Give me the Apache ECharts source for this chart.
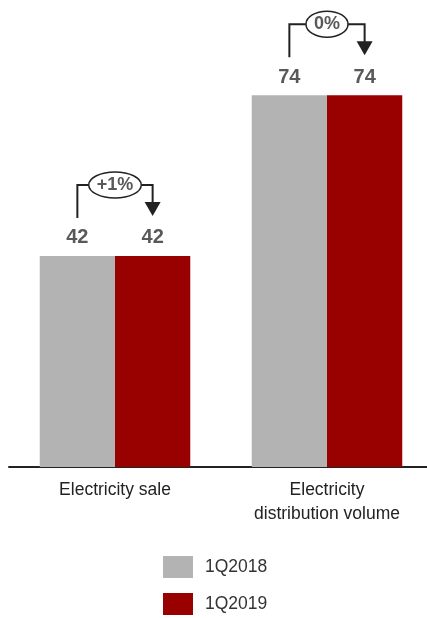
<!DOCTYPE html>
<html>
<head>
<meta charset="utf-8">
<script src="https://cdn.jsdelivr.net/npm/echarts@6/dist/echarts.min.js"></script>
<style>
  html, body { margin: 0; padding: 0; background: #fff; overflow: hidden; }
  #chart { width: 433px; height: 618px; }
</style>
</head>
<body>
<div id="chart"></div>
<script>
// Quarterly volumes per segment
const categories = ['Electricity sale', 'Electricity\ndistribution volume'];
const seriesNames = ['1Q2018', '1Q2019'];
const values2018 = [42, 74];
const values2019 = [42, 74];
const changeLabels = ['+1%', '0%'];

const GRAY = '#b3b3b3';
const RED = '#990000';
const INK = '#222222';
const LABEL_GRAY = '#595959';
const NARROW = "'Liberation Sans Narrow', 'Arial Narrow', 'Liberation Sans', Arial, sans-serif";
const SANS = "'Liberation Sans', Arial, sans-serif";
const GAP = 0.29;

const chart = echarts.init(document.getElementById('chart'), null, { renderer: 'canvas' });

const valueLabel = {
  show: true,
  position: 'top',
  distance: 8,
  color: LABEL_GRAY,
  fontFamily: NARROW,
  fontWeight: 'bold',
  fontSize: 20
};

chart.setOption({
  animation: false,
  backgroundColor: '#ffffff',
  grid: { left: 9, right: 0, top: 65, bottom: 151, containLabel: false },
  legend: {
    orient: 'vertical',
    left: 163,
    top: 556,
    padding: 0,
    itemWidth: 30,
    itemHeight: 22,
    itemGap: 15,
    icon: 'rect',
    textStyle: { color: '#333', fontFamily: SANS, fontSize: 17.5, padding: [0, 0, 0, 7] },
    data: seriesNames
  },
  xAxis: {
    type: 'category',
    data: categories,
    axisLine: { show: true, lineStyle: { color: INK, width: 2 } },
    axisTick: { show: false },
    axisLabel: {
      color: '#222',
      fontFamily: SANS,
      fontSize: 17.5,
      lineHeight: 24,
      margin: 11,
      interval: 0
    }
  },
  yAxis: {
    type: 'value',
    min: 0,
    max: 80,
    show: false,
    splitLine: { show: false }
  },
  series: [
    {
      name: seriesNames[0],
      type: 'bar',
      data: values2018,
      barGap: '0%',
      barCategoryGap: (GAP * 100) + '%',
      itemStyle: { color: GRAY },
      label: valueLabel
    },
    {
      name: seriesNames[1],
      type: 'bar',
      data: values2019,
      itemStyle: { color: RED },
      label: valueLabel
    }
  ]
});

// Change brackets above each pair of bars
const measureCtx = document.createElement('canvas').getContext('2d');
const bubbleFont = 'bold 18px ' + NARROW;
measureCtx.font = bubbleFont;

const xc = categories.map((_, i) => chart.convertToPixel({ xAxisIndex: 0 }, i));
const band = xc.length > 1 ? xc[1] - xc[0] : 212;
const barW = band * (1 - GAP) / 2;
const graphics = [];

categories.forEach((_, i) => {
  const xLeft = xc[i] - barW / 2;
  const xRight = xc[i] + barW / 2;
  const yGray = chart.convertToPixel({ yAxisIndex: 0 }, values2018[i]);
  const yRed = chart.convertToPixel({ yAxisIndex: 0 }, values2019[i]);
  const yTop = Math.min(yGray, yRed);
  const yBracket = yTop - 71;
  const yLeftEnd = yGray - 38;
  const yTip = yRed - 40;
  const yHeadBase = yTip - 14;

  const tw = measureCtx.measureText(changeLabels[i]).width;
  const rx = tw / 2 + 8;
  const ry = 13;

  graphics.push({
    type: 'polyline',
    shape: { points: [[xLeft, yLeftEnd], [xLeft, yBracket], [xc[i] - rx, yBracket]] },
    style: { stroke: INK, lineWidth: 2, fill: null }
  });
  graphics.push({
    type: 'polyline',
    shape: { points: [[xc[i] + rx, yBracket], [xRight, yBracket], [xRight, yHeadBase + 1]] },
    style: { stroke: INK, lineWidth: 2, fill: null }
  });
  graphics.push({
    type: 'polygon',
    shape: { points: [[xRight - 8, yHeadBase], [xRight + 8, yHeadBase], [xRight, yTip]] },
    style: { fill: INK }
  });
  graphics.push({
    type: 'ellipse',
    shape: { cx: xc[i], cy: yBracket, rx: rx, ry: ry },
    style: { fill: '#fff', stroke: INK, lineWidth: 1.5 }
  });
  graphics.push({
    type: 'text',
    x: xc[i],
    y: yBracket,
    style: {
      text: changeLabels[i],
      font: bubbleFont,
      fill: LABEL_GRAY,
      textAlign: 'center',
      textVerticalAlign: 'middle'
    }
  });
});

chart.setOption({ graphic: graphics });
</script>
</body>
</html>
